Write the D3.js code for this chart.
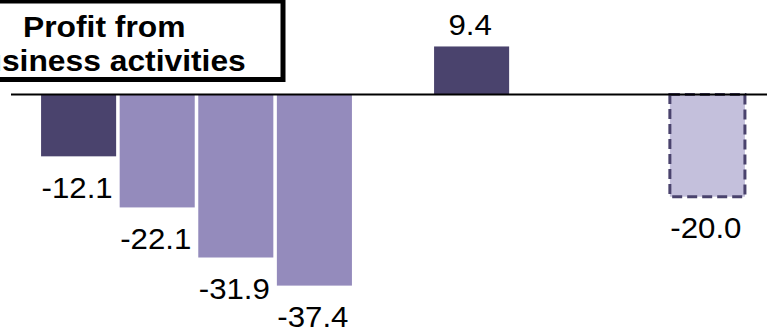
<!DOCTYPE html>
<html>
<head>
<meta charset="utf-8">
<script src="https://cdn.jsdelivr.net/npm/d3@7"></script>
<style>
  body { margin: 0; background: #fff; }
  svg { display: block; }
  text { font-family: "Liberation Sans", Arial, sans-serif; }
</style>
</head>
<body>
<div id="chart"></div>
<script>
// chart data
var periods = ["p1", "p2", "p3", "p4", "gap1", "p5", "gap2", "gap3", "p6"];
var values = [-12.1, -22.1, -31.9, -37.4, null, 9.4, null, null, -20.0];
var kinds = ["total", "part", "part", "part", null, "total", null, null, "forecast"];
var titleLines = ["Profit from", "Business activities"];

var width = 767;
var height = 329;
var sx = 1.04; // picture is stretched a little sideways
var titleSx = 1.06;

var svg = d3.select("#chart")
    .append("svg")
    .attr("width", width)
    .attr("height", height);

var x = d3.scaleBand()
    .domain(periods)
    .range([39.3, 746.7])
    .paddingInner(0.045)
    .paddingOuter(0.0225);

var y = d3.scaleLinear()
    .domain([-40, 20])
    .range([94.5 + 40 * 5.11, 94.5 - 20 * 5.11]);

var fills = { total: "#4a436d", part: "#948bbc", forecast: "#c4c0dc" };

var data = periods.map(function(p, i) {
  return { period: p, value: values[i], kind: kinds[i] };
}).filter(function(d) { return d.value !== null; });

// bars
svg.selectAll(".bar")
    .data(data)
    .enter()
    .append("rect")
    .attr("class", "bar")
    .attr("x", function(d) { return x(d.period); })
    .attr("width", x.bandwidth())
    .attr("y", function(d) { return y(Math.max(0, d.value)); })
    .attr("height", function(d) { return Math.abs(y(d.value) - y(0)); })
    .attr("fill", function(d) { return fills[d.kind]; })
    .attr("stroke", function(d) { return d.kind == "forecast" ? "#4a436d" : "none"; })
    .attr("stroke-width", 3)
    .attr("stroke-dasharray", "10,5");

// zero line
svg.append("line")
    .attr("x1", 11)
    .attr("x2", width)
    .attr("y1", y(0))
    .attr("y2", y(0))
    .attr("stroke", "#000")
    .attr("stroke-width", 2);

// value labels
svg.selectAll(".label")
    .data(data)
    .enter()
    .append("text")
    .attr("class", "label")
    .attr("transform", function(d) {
      var cx = x(d.period) + x.bandwidth() / 2 - 1.5;
      var cy = d.value >= 0 ? y(d.value) - 11 : y(d.value) + 41.5;
      return "translate(" + cx + "," + cy + ") scale(" + sx + ",1)";
    })
    .attr("text-anchor", "middle")
    .attr("font-size", 30)
    .attr("fill", "#000")
    .text(function(d) { return d.value.toFixed(1); });

// title box, cut off on the left
svg.append("rect")
    .attr("x", -60)
    .attr("y", 1)
    .attr("width", 343)
    .attr("height", 78.5)
    .attr("fill", "#fff")
    .attr("stroke", "#000")
    .attr("stroke-width", 5);

svg.append("text")
    .attr("transform", "translate(23,36.5) scale(" + titleSx + ",1)")
    .attr("font-size", 30)
    .attr("font-weight", "bold")
    .text(titleLines[0]);

svg.append("text")
    .attr("transform", "translate(-40.5,71) scale(" + titleSx + ",1)")
    .attr("font-size", 30)
    .attr("font-weight", "bold")
    .text(titleLines[1]);
</script>
</body>
</html>
